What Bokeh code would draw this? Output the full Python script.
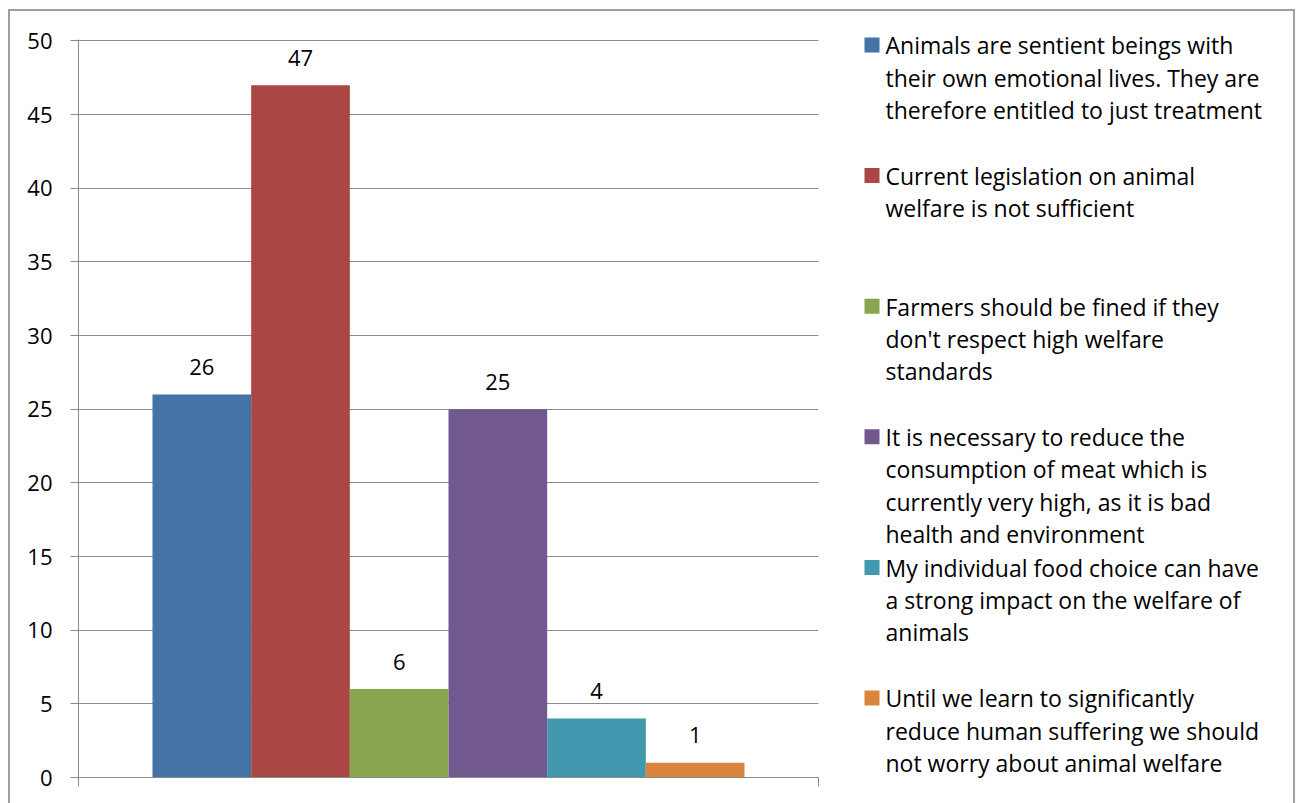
from bokeh.plotting import figure
from bokeh.layouts import row
from bokeh.models import Range1d, LinearAxis, FixedTicker, ColumnDataSource
from bokeh.core.properties import value
from bokeh.embed import file_html
from bokeh.resources import INLINE

# ---- data ----
values = [26, 47, 6, 25, 4, 1]
colors = ["#4572A7", "#AA4643", "#89A54E", "#71588F", "#4198AF", "#DB843D"]
legend_lines = [
    ["Animals are sentient beings with", "their own emotional lives. They are", "therefore entitled to just treatment"],
    ["Current legislation on animal", "welfare is not sufficient"],
    ["Farmers should be fined if they", "don't respect high welfare", "standards"],
    ["It is necessary to reduce the", "consumption of meat which is", "currently very high, as it is bad", "health and environment"],
    ["My individual food choice can have", "a strong impact on the welfare of", "animals"],
    ["Until we learn to significantly", "reduce human suffering we should", "not worry about animal welfare"],
]
y_ticks = [0, 5, 10, 15, 20, 25, 30, 35, 40, 45, 50]

FONT = "Open Sans"
FS = "22px"
LFS = "23px"
GRAY = "#8a8a8a"
TEXT_SHIFT = -8.5   # baseline correction for text glyphs

# one category; series placed side by side filling 80% of it
n = len(values)
gap = 0.125 * n          # padding on each side of the group (10% of category width)
cat_w = n + 2 * gap
xs = [gap + i + 0.5 for i in range(n)]

H = 792
p = figure(width=830, height=H, title=None,
           x_range=Range1d(0, cat_w), y_range=Range1d(0, 50.1), x_axis_location=None,
           output_backend="svg", toolbar_location=None,
           min_border_left=68, min_border_right=22, min_border_top=28, min_border_bottom=26)
p.outline_line_color = None

ya = p.yaxis[0]
ya.ticker = FixedTicker(ticks=y_ticks)
ya.major_tick_out = 8
ya.major_tick_in = 0
ya.minor_tick_out = 0
ya.minor_tick_in = 0
ya.axis_line_color = GRAY
ya.major_tick_line_color = GRAY
ya.major_label_text_font = FONT
ya.major_label_text_font_size = FS
ya.major_label_text_color = "black"
ya.major_label_standoff = 18

for g in p.xgrid:
    g.visible = False
p.ygrid.grid_line_color = GRAY
p.ygrid.grid_line_width = 1
p.ygrid.ticker = FixedTicker(ticks=y_ticks)

xa = LinearAxis(ticker=FixedTicker(ticks=[0, cat_w]),
                major_tick_out=9, major_tick_in=0, minor_tick_out=0, minor_tick_in=0,
                axis_line_color=GRAY, major_tick_line_color=GRAY,
                major_label_overrides={0: "", cat_w: ""}, major_label_standoff=0,
                major_label_text_font_size="1px")
p.add_layout(xa, "below")

src = ColumnDataSource(dict(x=xs, top=values, color=colors,
                            label=[str(v) for v in values]))
p.vbar(x="x", top="top", width=1.0, fill_color="color", line_color=None, source=src)
p.text(x="x", y="top", text="label", source=src, text_align="center",
       text_baseline="alphabetic", y_offset=-19 + TEXT_SHIFT, text_font=value(FONT),
       text_font_size=FS, text_color="black")

# ---- legend panel (coordinates = page pixels) ----
leg = figure(width=453, height=H, title=None,
             x_range=Range1d(840, 1293), y_range=Range1d(803, 11),
             x_axis_location=None, y_axis_location=None,
             output_backend="svg", toolbar_location=None, min_border=0)
try:
    leg.frame_align = False
except Exception:
    # frame stays aligned with the chart frame (page y 39..777)
    leg.y_range = Range1d(777, 39)
    leg.min_border_top = 28
    leg.min_border_bottom = 26
leg.outline_line_color = None
leg.grid.visible = False

mk = dict(left=[], right=[], top=[], bottom=[], color=[])
tx = dict(x=[], y=[], text=[])
for i, lines in enumerate(legend_lines):
    base = 53.3 + 130.6 * i
    mk["left"].append(864); mk["right"].append(879)
    mk["top"].append(base - 16.3); mk["bottom"].append(base - 1.3)
    mk["color"].append(colors[i])
    for k, line in enumerate(lines):
        tx["x"].append(885); tx["y"].append(base + 32.3 * k); tx["text"].append(line)

leg.quad(left="left", right="right", top="top", bottom="bottom", fill_color="color",
         line_color=None, source=ColumnDataSource(mk))
leg.text(x="x", y="y", text="text", source=ColumnDataSource(tx), text_align="left",
         text_baseline="alphabetic", y_offset=TEXT_SHIFT, text_font=value(FONT),
         text_font_size=LFS, text_color="black")

root = row(p, leg, margin=(11, 0, 0, 10), styles={"outline": "2px solid #a0a0a0"})
open("out.html", "w").write(file_html(root, INLINE))
